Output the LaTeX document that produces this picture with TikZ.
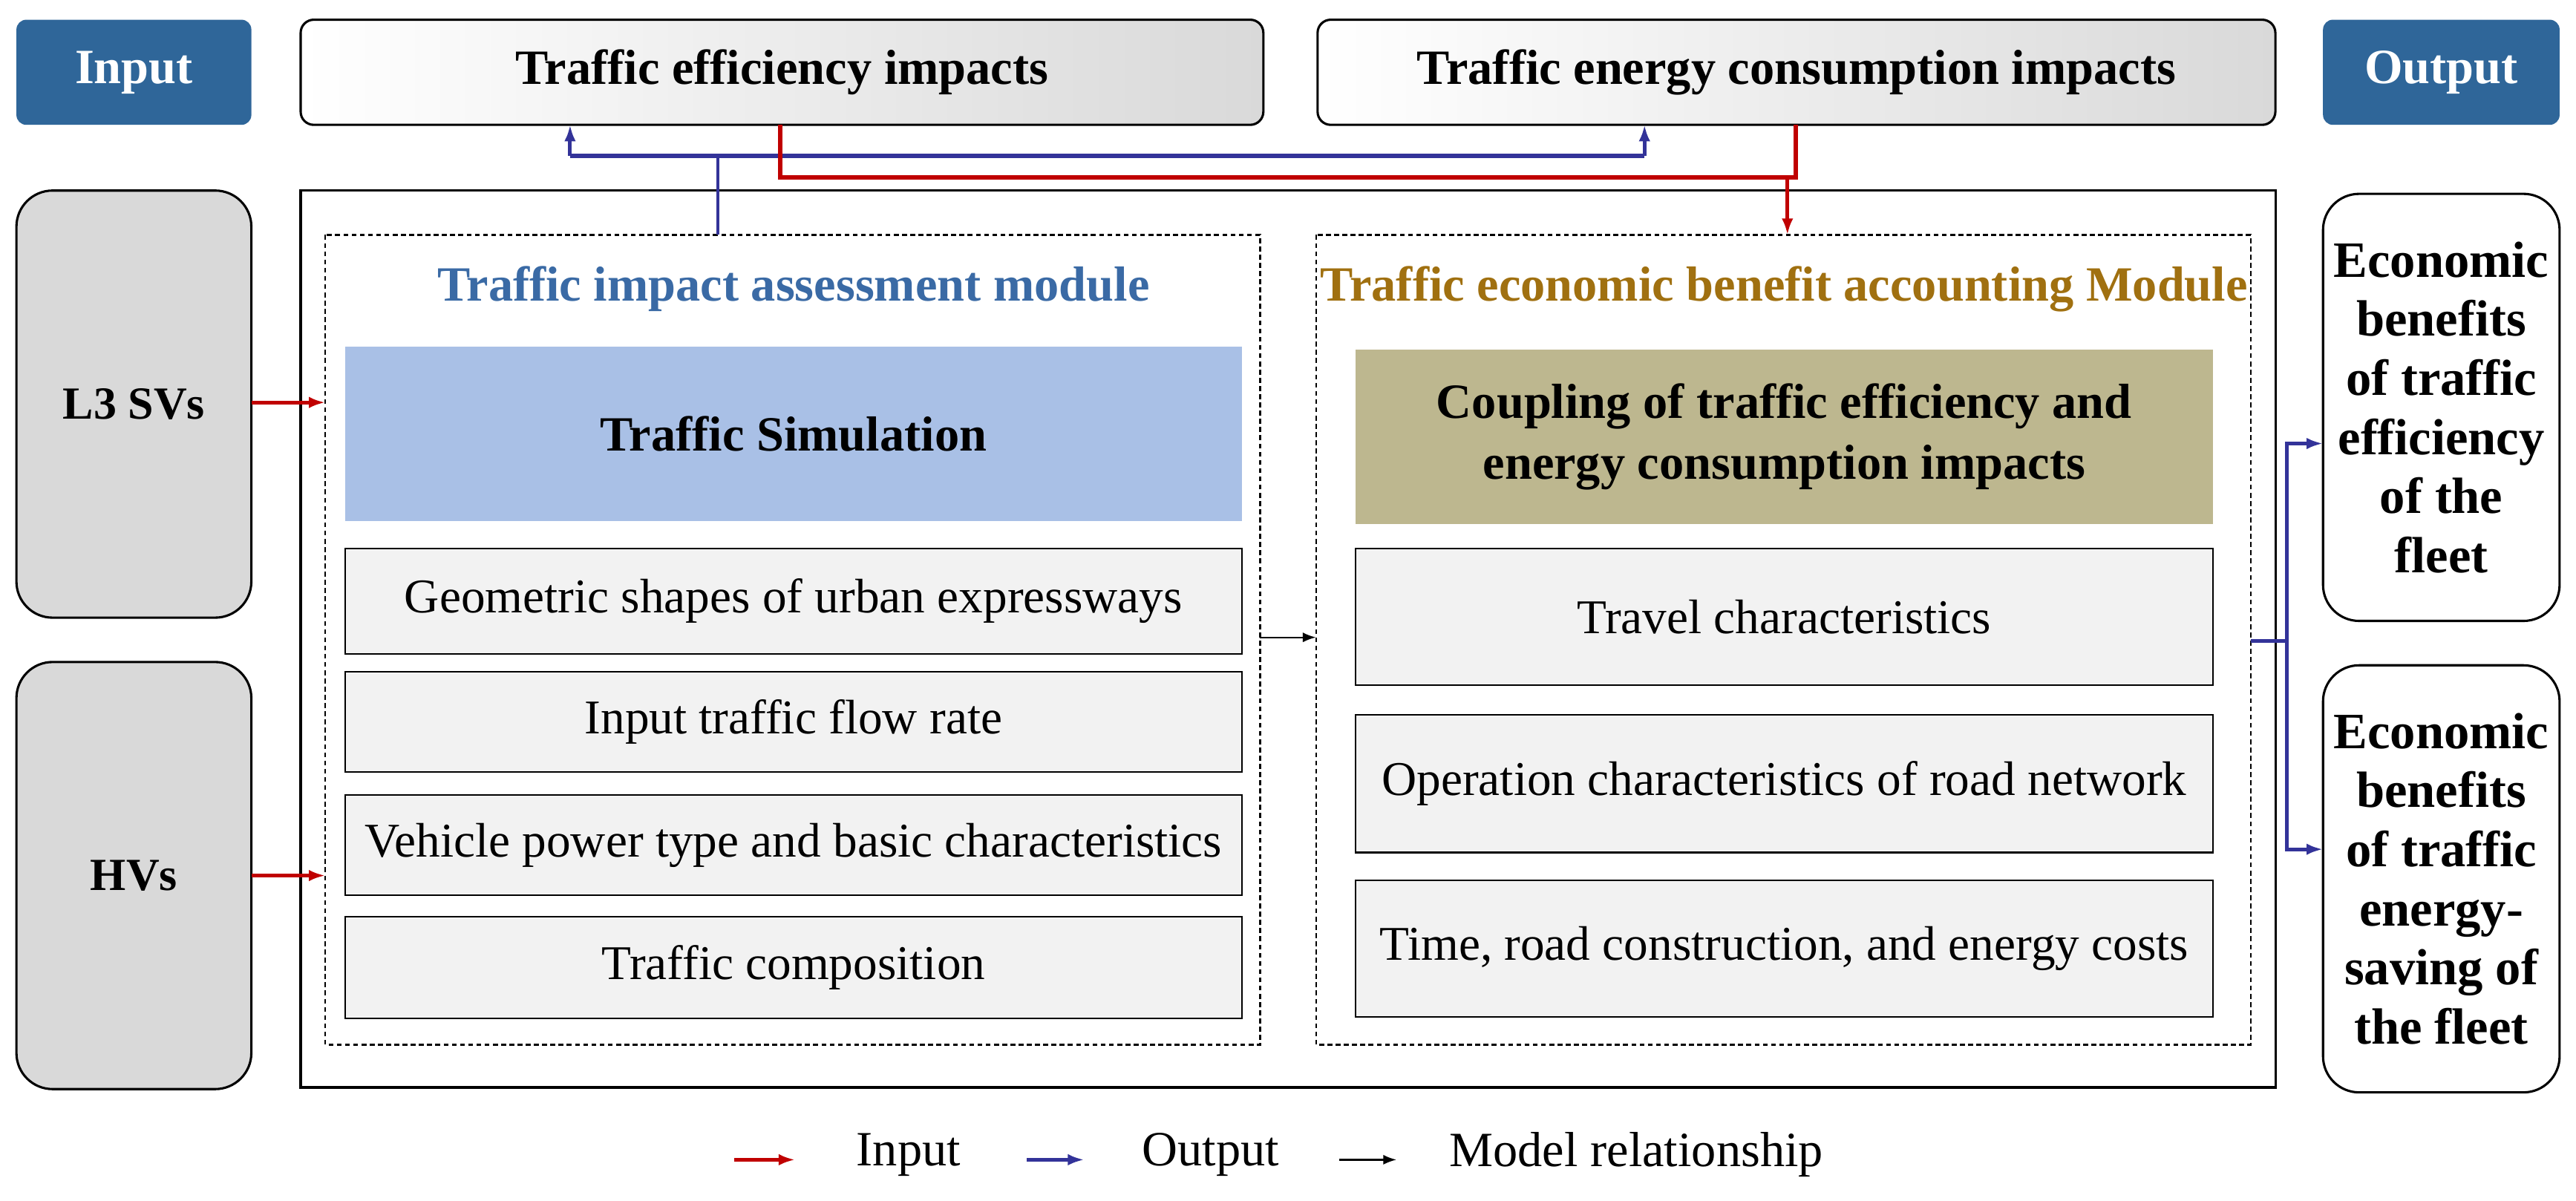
\documentclass[tikz,border=0pt]{standalone}
\usepackage{fontspec}
\setmainfont{Liberation Serif}
\usetikzlibrary{arrows.meta}
\definecolor{badge}{HTML}{2F6699}
\definecolor{titleblue}{HTML}{3A6AA5}
\definecolor{titlegold}{HTML}{A07010}
\definecolor{simblue}{HTML}{A9C0E6}
\definecolor{khaki}{HTML}{BDB78F}
\definecolor{lgray}{HTML}{F2F2F2}
\definecolor{mgray}{HTML}{D9D9D9}
\definecolor{redarr}{HTML}{C00000}
\definecolor{bluearr}{HTML}{333399}
\tikzset{
 badgebox/.style={fill=badge,rounded corners=6pt,text=white,font=\fontsize{30}{34}\selectfont\bfseries},
 topbox/.style={draw,line width=1.4pt,rounded corners=8pt,left color=white,right color=mgray,font=\fontsize{30}{34}\selectfont\bfseries},
 sidebox/.style={draw,line width=1.4pt,rounded corners=22pt,fill=mgray,font=\fontsize{28}{32}\selectfont\bfseries},
 outbox/.style={draw,line width=1.4pt,rounded corners=22pt,fill=white,font=\fontsize{31}{36}\selectfont\bfseries,align=center},
 graybox/.style={draw,line width=1pt,fill=lgray,font=\fontsize{29.5}{34}\selectfont},
 modbox/.style={draw,dash pattern=on 3pt off 2pt,line width=1pt},
 redA/.style={draw=redarr,line width=2.2pt,-{Latex[length=10pt,width=7pt]}},
 blueA/.style={draw=bluearr,line width=2.2pt,-{Latex[length=10pt,width=7pt]}},
 blackA/.style={draw=black,line width=1pt,-{Latex[length=8pt,width=6pt]}},
 lbl/.style={font=\fontsize{30}{34}\selectfont}
}
\begin{document}
\begin{tikzpicture}[x=1pt,y=-1pt]
\useasboundingbox (0,0) rectangle (1568,731);
% badges
\node[badgebox,minimum width=143,minimum height=64] (in) at (81.5,44) {Input};
\node[badgebox,minimum width=144,minimum height=64] (out) at (1486,44) {Output};
% top boxes
\node[topbox,minimum width=586,minimum height=64] (eff) at (476,44) {Traffic efficiency impacts};
\node[topbox,minimum width=583,minimum height=64] (ene) at (1093.5,44) {Traffic energy consumption impacts};
% main box
\draw[line width=1.4pt] (183,116) rectangle (1385,662);
\draw[modbox] (198,143) rectangle (767,636);
\draw[modbox] (801,143) rectangle (1370,636);
\node[text=titleblue,font=\fontsize{30}{34}\selectfont\bfseries] (t1) at (483,176) {Traffic impact assessment module};
\node[text=titlegold,font=\fontsize{30}{34}\selectfont\bfseries] (t2) at (1086,176) {Traffic economic benefit accounting Module};
% left module
\node[fill=simblue,minimum width=546,minimum height=106,font=\fontsize{30}{34}\selectfont\bfseries] (sim) at (483,264) {Traffic Simulation};
\node[graybox,minimum width=546,minimum height=64] (g1) at (483,366) {Geometric shapes of urban expressways};
\node[graybox,minimum width=546,minimum height=61] (g2) at (483,439.5) {Input traffic flow rate};
\node[graybox,minimum width=546,minimum height=61] (g3) at (483,514.5) {Vehicle power type and basic characteristics};
\node[graybox,minimum width=546,minimum height=62] (g4) at (483,589) {Traffic composition};
% right module
\node[fill=khaki,minimum width=522,minimum height=106,align=center,font=\fontsize{30}{37}\selectfont\bfseries] (cp) at (1086,266) {Coupling of traffic efficiency and\\energy consumption impacts};
\node[graybox,minimum width=522,minimum height=83] (r1) at (1086,375.5) {Travel characteristics};
\node[graybox,minimum width=522,minimum height=84] (r2) at (1086,477) {Operation characteristics of road network};
\node[graybox,minimum width=522,minimum height=83] (r3) at (1086,577.5) {Time, road construction, and energy costs};
% side boxes
\node[sidebox,minimum width=143,minimum height=260] (l3) at (81.5,246) {L3 SVs};
\node[sidebox,minimum width=143,minimum height=260] (hv) at (81.5,533) {HVs};
\node[outbox,minimum width=144,minimum height=260] (o1) at (1486,248) {Economic\\benefits\\of traffic\\efficiency\\of the\\fleet};
\node[outbox,minimum width=144,minimum height=260] (o2) at (1486,535) {Economic\\benefits\\of traffic\\energy-\\saving of\\the fleet};
% coordinates
\coordinate (lm) at (198,245);
\coordinate (lm2) at (198,533);
\coordinate (lmtop) at (437,143);
\coordinate (rmtop) at (1088,143);
\coordinate (rmr) at (1370,390);
\coordinate (lmr) at (767,388);
\coordinate (rml) at (801,388);
% input arrows
\draw[redA] (153,245) -- (lm);
\draw[redA] (153,533) -- (lm2);
% top connectors
\draw[draw=bluearr,line width=2pt] (lmtop) -- (437,95);
\draw[draw=bluearr,line width=2.8pt] (347,95) -- (1001,95);
\draw[blueA] (347,95) -- (347,76);
\draw[blueA] (1001,95) -- (1001,76);
\draw[draw=redarr,line width=2.8pt] (475,76) |- (1093,108) -- (1093,76);
\draw[redA] (1088,108) -- (rmtop);
% model relationship
\draw[blackA] (lmr) -- (rml);
% output
\draw[draw=bluearr,line width=2.2pt] (rmr) -- (1392,390);
\draw[blueA] (1392,390) |- (1414,270);
\draw[blueA] (1392,390) |- (1414,517);
% legend
\draw[redA] (447,706) -- (484,706);
\node[lbl] (li) at (553,703) {Input};
\draw[blueA] (625,706) -- (660,706);
\node[lbl] (lo) at (737,703) {Output};
\draw[blackA] (815,706) -- (850,706);
\node[lbl] (lmrel) at (996,703) {Model relationship};
\end{tikzpicture}
\end{document}
